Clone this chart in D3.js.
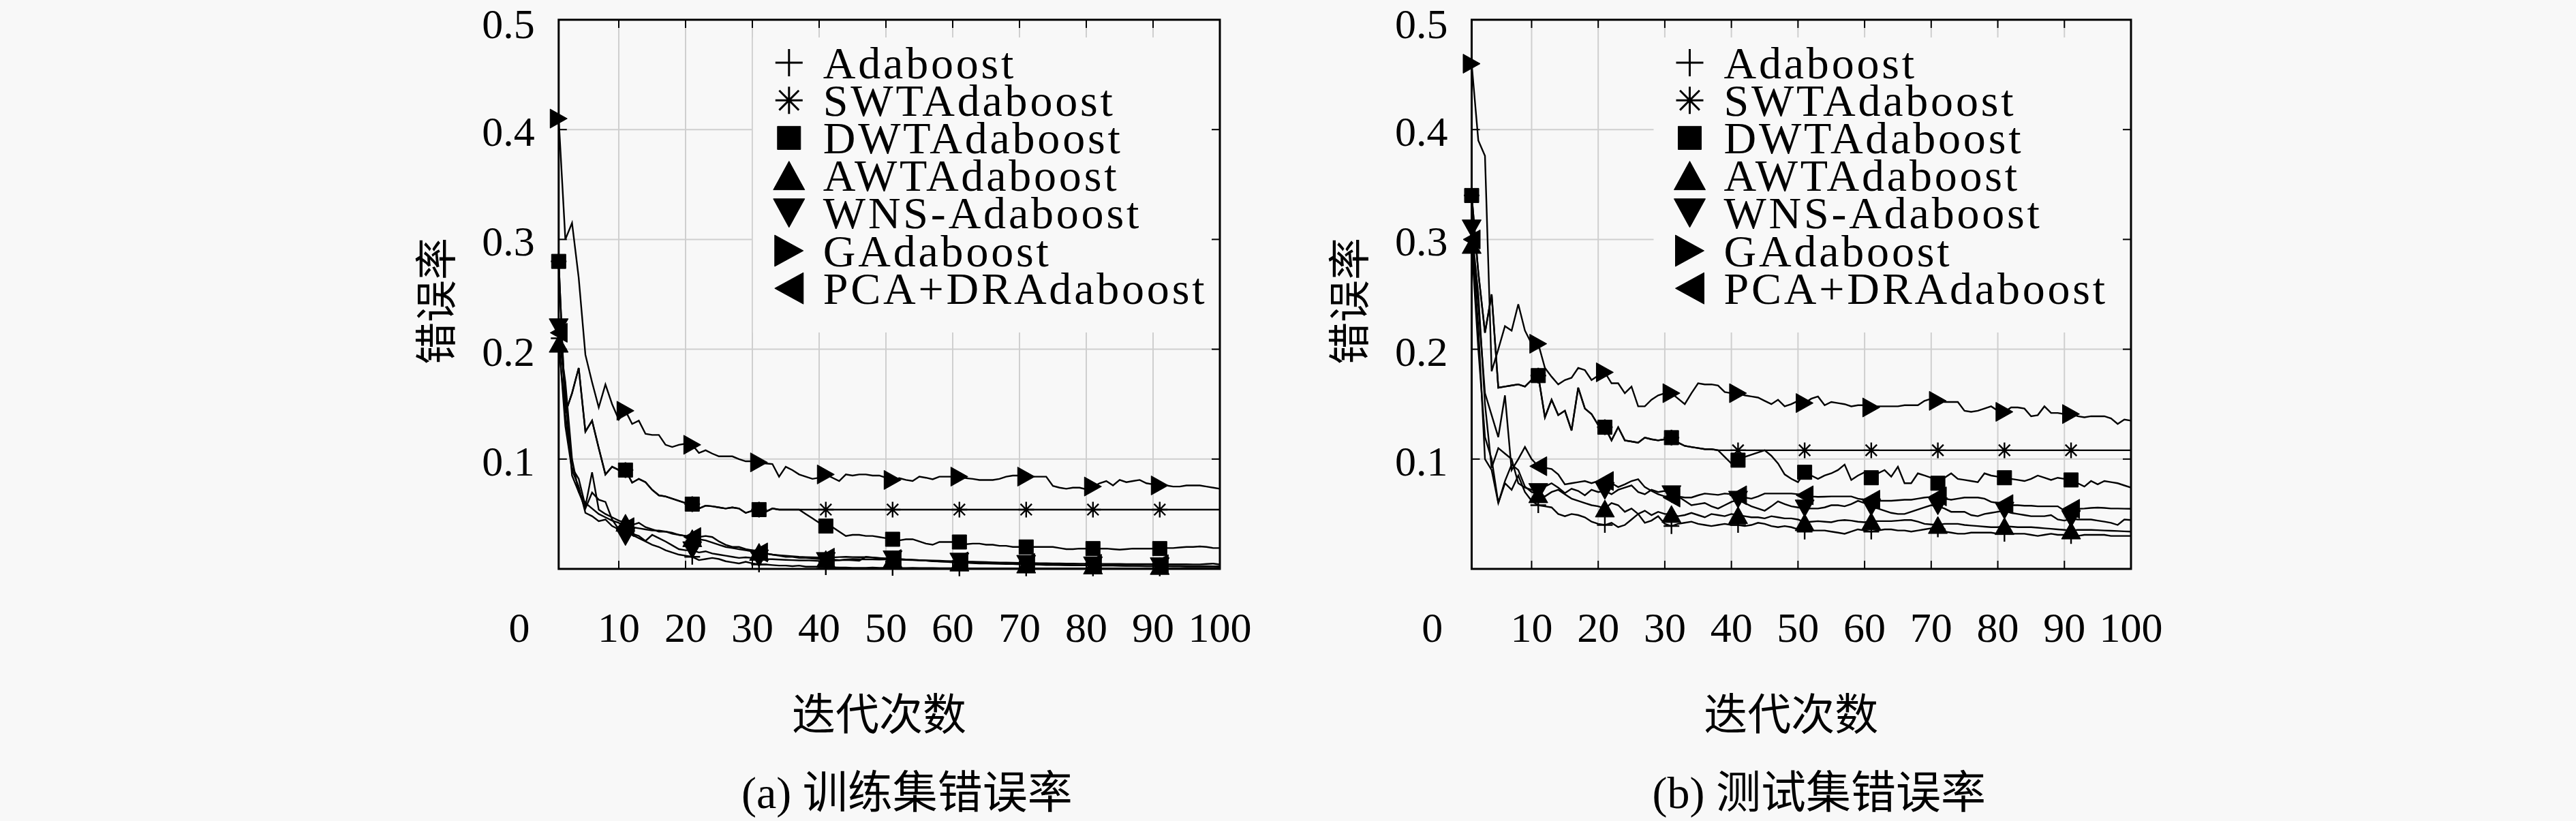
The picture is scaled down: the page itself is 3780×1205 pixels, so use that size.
<!DOCTYPE html>
<html>
<head>
<meta charset="utf-8">
<script src="https://cdn.jsdelivr.net/npm/d3@7"></script>
<style>
  html, body { margin: 0; padding: 0; background: #f8f8f8; }
  svg { display: block; }
</style>
</head>
<body>
<svg id="chart" width="3780" height="1205"></svg>
<script>
/*******************/
/*** CHART DATA  ***/
/*******************/
var seriesNames = ['Adaboost', 'SWTAdaboost', 'DWTAdaboost', 'AWTAdaboost', 'WNS-Adaboost', 'GAdaboost', 'PCA+DRAdaboost'];
var seriesMarks = ['plus', 'star', 'square', 'up', 'down', 'right', 'left'];
var iterations = d3.range(1, 101);
var xTickValues = [10, 20, 30, 40, 50, 60, 70, 80, 90, 100];
var xTickLabels = ['10', '20', '30', '40', '50', '60', '70', '80', '90', '100'];
var yTickValues = [0.1, 0.2, 0.3, 0.4, 0.5];
var yTickLabels = ['0.1', '0.2', '0.3', '0.4', '0.5'];
var xTitle = '迭代次数';
var yTitle = '错误率';

//(a) training set error
var trainAda = [
  .210,.130,.090,.075,.051,.048,.0435,.045,.039,.036,
  .035,.031,.028,.025,.022,.020,.017,.015,.013,.012,
  .011,.008,.009,.010,.009,.007,.006,.005,.0065,.005,
  .004,.004,.0035,.003,.003,.0025,.003,.002,.002,.002,
  .0015,.0015,.0012,.0012,.001,.001,.001,.0012,.001,.001,
  .001,.0008,.0008,.001,.0008,.0008,.0008,.0006,.0006,.0006,
  .0005,.0005,.0005,.0005,.0005,.0005,.0005,.0005,.0005,.0005,
  .0005,.0005,.0005,.0005,.0005,.0005,.0005,.0005,.0005,.0005,
  .0005,.0005,.0005,.0005,.0005,.0005,.0005,.0005,.0005,.0005,
  .0005,.0005,.0005,.0005,.0005,.0005,.0005,.0005,.0005,.0005
];
var trainSWT = [
  .280,.142,.160,.183,.125,.135,.110,.086,.093,.090,
  .090,.0785,.082,.079,.072,.067,.066,.064,.062,.060,
  .059,.055,.0576,.057,.056,.055,.056,.055,.051,.053,
  .054,.052,.055,.054,.054,.054,.054,.054,.054,.054,
  .054,.054,.054,.054,.054,.054,.054,.054,.054,.054,
  .054,.054,.054,.054,.054,.054,.054,.054,.054,.054,
  .054,.054,.054,.054,.054,.054,.054,.054,.054,.054,
  .054,.054,.054,.054,.054,.054,.054,.054,.054,.054,
  .054,.054,.054,.054,.054,.054,.054,.054,.054,.054,
  .054,.054,.054,.054,.054,.054,.054,.054,.054,.054
];
var trainDWT = [
  .280,.142,.160,.183,.125,.135,.110,.086,.093,.090,
  .090,.0785,.082,.079,.072,.067,.066,.064,.062,.060,
  .059,.055,.0576,.057,.056,.055,.056,.055,.051,.053,
  .054,.052,.055,.054,.054,.054,.054,.050,.046,.042,
  .039,.038,.034,.030,.031,.031,.030,.030,.029,.028,
  .027,.026,.027,.027,.025,.023,.022,.0245,.0245,.0245,
  .0245,.0225,.023,.023,.022,.022,.021,.021,.020,.020,
  .020,.020,.020,.020,.020,.019,.018,.018,.0185,.0185,
  .0185,.0185,.0185,.018,.0175,.018,.0185,.0185,.0185,.0185,
  .0185,.019,.019,.0195,.020,.020,.0205,.020,.019,.019
];
var trainAWT = [
  .205,.140,.092,.082,.057,.088,.054,.050,.047,.044,
  .042,.040,.042,.038,.036,.034,.034,.033,.031,.030,
  .028,.029,.030,.029,.025,.022,.020,.020,.018,.017,
  .0155,.014,.013,.012,.011,.011,.010,.010,.0095,.009,
  .009,.0085,.008,.0082,.0078,.0075,.011,.0105,.010,.0095,
  .009,.0088,.0085,.0082,.008,.0075,.007,.0068,.0065,.006,
  .0058,.0055,.0052,.005,.005,.0048,.0046,.0045,.0044,.0042,
  .004,.004,.0038,.0036,.0036,.0035,.0034,.0033,.0032,.0032,
  .0031,.003,.003,.003,.0029,.0028,.0028,.0028,.0027,.0027,
  .0027,.0026,.0026,.0026,.0025,.0025,.0025,.0025,.0024,.0024
];
var trainWNS = [
  .220,.160,.085,.070,.055,.0695,.063,.061,.045,.036,
  .029,.032,.030,.0255,.031,.028,.025,.0215,.018,.017,
  .017,.015,.016,.014,.013,.012,.011,.010,.0105,.010,
  .0095,.009,.0088,.0085,.0082,.008,.0078,.0078,.0075,.0072,
  .0072,.0075,.0078,.0085,.009,.0088,.0087,.0086,.0085,.0087,
  .0087,.0085,.0082,.008,.0078,.0075,.0072,.0068,.0067,.0067,
  .0066,.0064,.0062,.006,.0058,.0056,.0054,.0052,.005,.0048,
  .0046,.0044,.0042,.004,.0038,.0037,.0036,.0035,.0034,.0033,
  .0032,.0031,.003,.003,.0029,.0028,.0027,.0026,.0025,.0025,
  .0024,.0024,.0023,.0023,.0022,.0022,.0022,.0021,.0021,.002
];
var trainGA = [
  .410,.300,.315,.265,.195,.170,.147,.168,.150,.136,
  .144,.132,.135,.123,.122,.122,.113,.111,.113,.114,
  .113,.1056,.108,.105,.1025,.1025,.1025,.100,.098,.098,
  .097,.096,.0955,.084,.093,.090,.086,.084,.082,.083,
  .086,.083,.080,.086,.085,.086,.086,.085,.085,.083,
  .081,.0826,.081,.080,.084,.083,.0816,.084,.084,.084,
  .084,.0826,.082,.081,.081,.081,.082,.084,.085,.085,
  .084,.084,.084,.084,.0756,.074,.073,.074,.074,.0725,
  .075,.078,.080,.076,.081,.079,.080,.081,.078,.077,
  .076,.076,.075,.075,.076,.076,.076,.075,.074,.073
];
var trainPCA = [
  .215,.170,.100,.070,.060,.055,.050,.047,.044,.042,
  .038,.038,.037,.036,.035,.035,.034,.032,.031,.030,
  .029,.027,.026,.024,.022,.020,.019,.018,.017,.016,
  .015,.014,.013,.0125,.012,.0115,.011,.0108,.0106,.0104,
  .0102,.0105,.0108,.011,.0108,.0107,.0107,.0103,.0098,.0093,
  .009,.0088,.0085,.0083,.008,.0078,.0076,.0074,.0072,.007,
  .0068,.0066,.0066,.0064,.0062,.006,.0058,.0057,.0056,.0055,
  .0054,.0053,.0052,.0051,.005,.005,.0049,.0048,.0047,.0047,
  .0046,.0046,.0045,.0045,.0045,.0044,.0044,.0044,.0043,.0043,
  .0043,.0042,.0042,.0042,.0042,.0041,.0041,.0045,.0048,.004
];

//(b) test set error
var testAda = [
  .300,.220,.100,.090,.060,.078,.072,.085,.070,.062,
  .058,.057,.056,.050,.048,.050,.049,.047,.043,.041,
  .040,.042,.038,.040,.045,.050,.042,.044,.048,.041,
  .039,.041,.042,.043,.041,.040,.039,.040,.041,.040,
  .040,.039,.040,.042,.041,.039,.038,.039,.038,.036,
  .034,.035,.035,.035,.034,.033,.032,.034,.036,.035,
  .034,.035,.036,.036,.035,.035,.034,.035,.036,.037,
  .036,.034,.033,.032,.032,.033,.033,.033,.033,.032,
  .032,.032,.032,.032,.031,.030,.031,.032,.031,.031,
  .030,.030,.031,.031,.031,.031,.030,.030,.030,.030
];
var testSWT = [
  .340,.270,.215,.250,.165,.166,.167,.168,.166,.172,
  .176,.138,.154,.140,.144,.126,.165,.146,.141,.131,
  .129,.117,.129,.117,.116,.115,.1195,.118,.117,.118,
  .1195,.115,.112,.111,.110,.109,.109,.108,.108,.108,
  .108,.108,.108,.108,.108,.108,.108,.108,.108,.108,
  .108,.108,.108,.108,.108,.108,.108,.108,.108,.108,
  .108,.108,.108,.108,.108,.108,.108,.108,.108,.108,
  .108,.108,.108,.108,.108,.108,.108,.108,.108,.108,
  .108,.108,.108,.108,.108,.108,.108,.108,.108,.108,
  .108,.108,.108,.108,.108,.108,.108,.108,.108,.108
];
var testDWT = [
  .340,.270,.215,.250,.165,.166,.167,.168,.166,.172,
  .176,.138,.154,.140,.144,.126,.165,.146,.141,.131,
  .129,.117,.129,.117,.116,.115,.1195,.118,.117,.118,
  .1195,.115,.112,.111,.110,.109,.109,.108,.102,.096,
  .099,.102,.104,.106,.108,.103,.096,.086,.082,.079,
  .088,.085,.082,.085,.087,.090,.095,.081,.085,.088,
  .083,.087,.090,.084,.093,.078,.078,.087,.085,.083,
  .078,.083,.087,.082,.081,.080,.079,.087,.085,.084,
  .083,.082,.081,.080,.082,.085,.083,.081,.083,.082,
  .081,.078,.075,.080,.077,.080,.079,.078,.076,.074
];
var testAWT = [
  .295,.200,.120,.100,.060,.080,.095,.090,.075,.070,
  .068,.066,.070,.072,.068,.064,.062,.060,.058,.057,
  .055,.060,.058,.052,.055,.050,.053,.049,.052,.050,
  .050,.048,.049,.051,.049,.047,.050,.049,.048,.050,
  .049,.048,.047,.047,.046,.048,.047,.046,.046,.045,
  .0425,.043,.0435,.043,.0425,.044,.0445,.044,.043,.0425,
  .0435,.0435,.0435,.0435,.044,.0445,.0445,.043,.041,.0405,
  .040,.041,.041,.041,.040,.0395,.039,.0385,.038,.038,
  .039,.0385,.038,.038,.038,.0375,.037,.0365,.036,.0355,
  .035,.0355,.0355,.0355,.0353,.035,.0347,.0345,.0342,.034
];
var testWNS = [
  .310,.250,.150,.092,.110,.105,.100,.078,.074,.072,
  .070,.075,.078,.074,.069,.073,.071,.067,.072,.070,
  .071,.068,.072,.074,.076,.070,.068,.072,.070,.071,
  .068,.066,.062,.058,.059,.060,.057,.055,.058,.061,
  .063,.060,.057,.055,.053,.057,.0615,.059,.057,.056,
  .055,.055,.055,.056,.058,.058,.057,.059,.062,.060,
  .056,.055,.053,.051,.050,.050,.052,.054,.056,.058,
  .057,.055,.052,.052,.052,.049,.048,.050,.051,.052,
  .053,.051,.050,.049,.048,.048,.048,.049,.045,.044,
  .0455,.045,.045,.045,.044,.043,.042,.040,.045,.0445
];
var testGA = [
  .460,.390,.376,.180,.200,.221,.217,.241,.217,.205,
  .205,.183,.175,.168,.172,.174,.183,.181,.172,.176,
  .179,.169,.169,.160,.166,.148,.148,.154,.158,.160,
  .160,.155,.150,.160,.169,.168,.168,.167,.161,.160,
  .160,.158,.157,.156,.153,.150,.154,.148,.150,.153,
  .151,.155,.157,.149,.152,.151,.150,.148,.149,.149,
  .147,.148,.148,.148,.148,.149,.149,.149,.153,.155,
  .153,.152,.152,.152,.144,.143,.144,.146,.148,.144,
  .143,.147,.147,.146,.139,.140,.148,.142,.142,.141,
  .141,.139,.138,.139,.139,.139,.137,.132,.136,.135
];
var testPCA = [
  .300,.240,.160,.140,.120,.158,.090,.100,.111,.100,
  .0935,.092,.091,.086,.077,.078,.079,.080,.078,.080,
  .080,.078,.0745,.077,.080,.0816,.0745,.071,.068,.066,
  .065,.066,.065,.065,.067,.0686,.068,.0674,.0686,.068,
  .067,.065,.064,.066,.0686,.0686,.0686,.0686,.0686,.068,
  .067,.066,.0656,.0658,.066,.066,.066,.066,.064,.063,
  .063,.062,.062,.062,.0625,.063,.063,.064,.065,.0655,
  .066,.064,.063,.064,.065,.065,.065,.064,.061,.060,
  .059,.058,.058,.0575,.0575,.057,.057,.057,.057,.053,
  .0547,.0547,.055,.0555,.0558,.0555,.055,.055,.0548,.0547
];

/**********************/
/*** DRAWING SETUP  ***/
/**********************/
var serifFont = '"Liberation Serif", "DejaVu Serif", serif';
var mixedFont = '"Liberation Serif", "Noto Sans CJK SC", serif';
var cjkFont = '"Noto Sans CJK SC", sans-serif';
var bgColor = '#f8f8f8';
var gridColor = '#cfcfcf';
var plotTop = 29, plotBottom = 835;

var panels = [
  { left: 819.8, right: 1790, legendShift: 0, caption: '(a) 训练集错误率',
    series: [trainAda, trainSWT, trainDWT, trainAWT, trainWNS, trainGA, trainPCA] },
  { left: 2159.5, right: 3127, legendShift: -18, caption: '(b) 测试集错误率',
    series: [testAda, testSWT, testDWT, testAWT, testWNS, testGA, testPCA] }
];

var svg = d3.select('#chart');
svg.append('rect')
  .attr('width', 3780).attr('height', 1205)
  .attr('fill', bgColor);

//marker outline, centered at 0,0 (b = base/width, h = height)
function markerPath(kind, b, h) {
  var p = d3.path();
  switch (kind) {
    case 'square':
      p.rect(-b/2, -b/2, b, b);
      break;
    case 'up':
      p.moveTo(0, -h/2); p.lineTo(b/2, h/2); p.lineTo(-b/2, h/2); p.closePath();
      break;
    case 'down':
      p.moveTo(0, h/2); p.lineTo(b/2, -h/2); p.lineTo(-b/2, -h/2); p.closePath();
      break;
    case 'right':
      p.moveTo(h/2, 0); p.lineTo(-h/2, -b/2); p.lineTo(-h/2, b/2); p.closePath();
      break;
    case 'left':
      p.moveTo(-h/2, 0); p.lineTo(h/2, -b/2); p.lineTo(h/2, b/2); p.closePath();
      break;
    case 'plus':
      p.moveTo(-b/2, 0); p.lineTo(b/2, 0);
      p.moveTo(0, -b/2); p.lineTo(0, b/2);
      break;
    case 'star':
      var d = b/2 * 0.72;
      p.moveTo(-b/2, 0); p.lineTo(b/2, 0);
      p.moveTo(0, -b/2); p.lineTo(0, b/2);
      p.moveTo(-d, -d); p.lineTo(d, d);
      p.moveTo(-d, d); p.lineTo(d, -d);
      break;
  }
  return p.toString();
}

function drawMarker(g, kind, cx, cy, big) {
  var stroked = (kind == 'plus' || kind == 'star');
  var b, h;
  if (kind == 'square') { b = big ? 34 : 21; h = b; }
  else if (stroked) { b = big ? 40 : 23; h = b; }
  else { b = big ? 46 : 28; h = big ? 42 : 25; }
  g.append('path')
    .attr('d', markerPath(kind, b, h))
    .attr('transform', 'translate(' + cx + ',' + cy + ')')
    .attr('fill', stroked ? 'none' : '#000')
    .attr('stroke', '#000')
    .attr('stroke-width', stroked ? (big ? 3 : 2.4) : 1);
}

function drawPanel(p) {
  var g = svg.append('g');
  var x = d3.scaleLinear().domain([1, 100]).range([p.left, p.right]);
  var y = d3.scaleLinear().domain([0, 0.5]).range([plotBottom, plotTop]);
  var midX = (p.left + p.right) / 2;

  //grid
  g.selectAll('.vgrid')
    .data(xTickValues.filter(function(v) { return v < 100; }))
    .enter().append('line')
    .attr('x1', function(d) { return x(d); }).attr('x2', function(d) { return x(d); })
    .attr('y1', y(0)).attr('y2', y(0.5))
    .attr('stroke', gridColor).attr('stroke-width', 2);
  g.selectAll('.hgrid')
    .data(yTickValues.filter(function(v) { return v < 0.5; }))
    .enter().append('line')
    .attr('x1', x(1)).attr('x2', x(100))
    .attr('y1', function(d) { return y(d); }).attr('y2', function(d) { return y(d); })
    .attr('stroke', gridColor).attr('stroke-width', 2);

  //opaque legend box
  var boxLeft = p.left + 285 + p.legendShift;
  g.append('rect')
    .attr('x', boxLeft).attr('y', 55)
    .attr('width', p.right - boxLeft).attr('height', 433)
    .attr('fill', bgColor);

  //series lines
  var line = d3.line()
    .x(function(d, i) { return x(iterations[i]); })
    .y(function(d) { return y(d); });
  p.series.forEach(function(values) {
    g.append('path')
      .datum(values)
      .attr('d', line)
      .attr('fill', 'none')
      .attr('stroke', '#000')
      .attr('stroke-width', 2.4);
  });

  //markers every 10 iterations
  p.series.forEach(function(values, s) {
    values.forEach(function(v, i) {
      if (i % 10 == 0)
        drawMarker(g, seriesMarks[s], x(iterations[i]), y(v), false);
    });
  });

  //frame
  g.append('rect')
    .attr('x', x(1)).attr('y', y(0.5))
    .attr('width', x(100) - x(1)).attr('height', y(0) - y(0.5))
    .attr('fill', 'none').attr('stroke', '#000').attr('stroke-width', 3);

  //inward ticks
  xTickValues.forEach(function(v) {
    g.append('line').attr('x1', x(v)).attr('x2', x(v))
      .attr('y1', y(0)).attr('y2', y(0) - 12).attr('stroke', '#000').attr('stroke-width', 2);
    g.append('line').attr('x1', x(v)).attr('x2', x(v))
      .attr('y1', y(0.5)).attr('y2', y(0.5) + 12).attr('stroke', '#000').attr('stroke-width', 2);
  });
  yTickValues.forEach(function(v) {
    g.append('line').attr('x1', x(1)).attr('x2', x(1) + 12)
      .attr('y1', y(v)).attr('y2', y(v)).attr('stroke', '#000').attr('stroke-width', 2);
    g.append('line').attr('x1', x(100) - 12).attr('x2', x(100))
      .attr('y1', y(v)).attr('y2', y(v)).attr('stroke', '#000').attr('stroke-width', 2);
  });

  //tick labels
  g.selectAll('.xlabel')
    .data(xTickValues)
    .enter().append('text')
    .attr('x', function(d) { return x(d); })
    .attr('y', 921)
    .attr('text-anchor', 'middle')
    .attr('dominant-baseline', 'central')
    .attr('font-family', serifFont).attr('font-size', 62)
    .text(function(d, i) { return xTickLabels[i]; });
  g.append('text')
    .attr('x', x(0) - 48).attr('y', 921)
    .attr('text-anchor', 'middle')
    .attr('dominant-baseline', 'central')
    .attr('font-family', serifFont).attr('font-size', 62)
    .text('0');
  //keep the top label inside the canvas
  g.selectAll('.ylabel')
    .data(yTickValues)
    .enter().append('text')
    .attr('x', p.left - 35)
    .attr('y', function(d) { return Math.max(y(d) + 3, 35); })
    .attr('text-anchor', 'end')
    .attr('dominant-baseline', 'central')
    .attr('font-family', serifFont).attr('font-size', 62)
    .text(function(d, i) { return yTickLabels[i]; });

  //axis titles and caption
  g.append('text')
    .attr('transform', 'translate(' + (p.left - 184) + ',442) rotate(-90)')
    .attr('text-anchor', 'middle')
    .attr('dominant-baseline', 'central')
    .attr('font-family', cjkFont).attr('font-size', 62)
    .text(yTitle);
  g.append('text')
    .attr('x', midX - 15).attr('y', 1043)
    .attr('text-anchor', 'middle')
    .attr('dominant-baseline', 'central')
    .attr('font-family', cjkFont).attr('font-size', 64)
    .text(xTitle);
  g.append('text')
    .attr('x', midX + 26).attr('y', 1163)
    .attr('text-anchor', 'middle')
    .attr('dominant-baseline', 'central')
    .attr('font-family', mixedFont).attr('font-size', 66)
    .text(p.caption);

  //legend entries
  seriesNames.forEach(function(name, i) {
    var ly = 92 + i * 55.2;
    drawMarker(g, seriesMarks[i], p.left + 338 + p.legendShift, ly, true);
    g.append('text')
      .attr('x', p.left + 388 + p.legendShift).attr('y', ly)
      .attr('dominant-baseline', 'central')
      .attr('font-family', serifFont).attr('font-size', 66)
      .attr('letter-spacing', 3.8)
      .text(name);
  });
}

panels.forEach(drawPanel);
</script>
</body>
</html>
